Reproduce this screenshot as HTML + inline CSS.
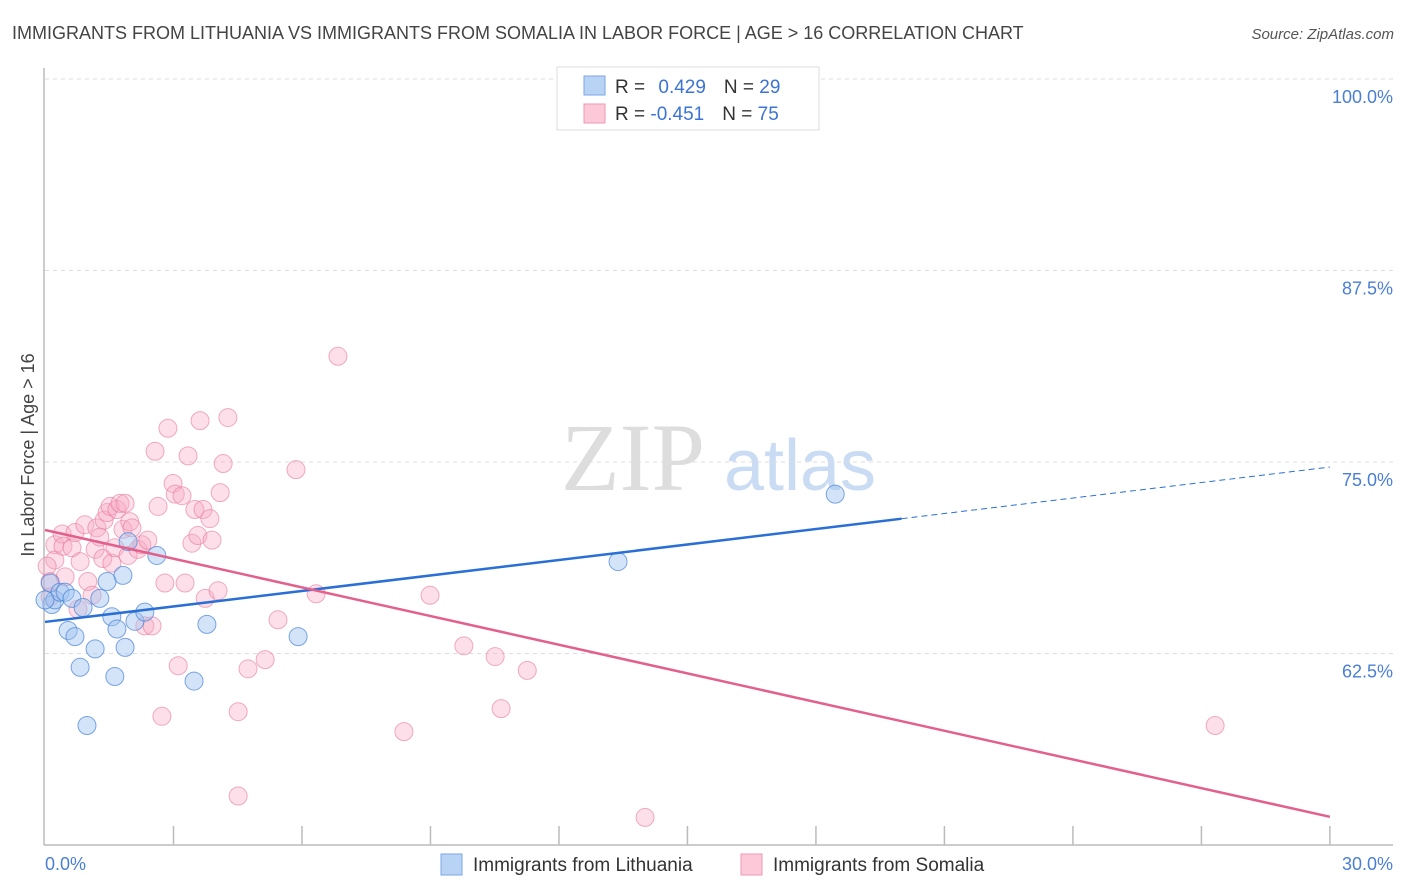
<!DOCTYPE html>
<html><head><meta charset="utf-8"><style>
body{margin:0;background:#fff;width:1406px;height:892px;overflow:hidden;font-family:"Liberation Sans",sans-serif}
svg{position:absolute;left:0;top:0}
</style></head><body>
<svg id="chart" width="1406" height="892">
<text x="12" y="39" font-size="18" fill="#444">IMMIGRANTS FROM LITHUANIA VS IMMIGRANTS FROM SOMALIA IN LABOR FORCE | AGE &gt; 16 CORRELATION CHART</text>
<text x="1394" y="39" font-size="15" fill="#555" font-style="italic" text-anchor="end">Source: ZipAtlas.com</text>
<g>
<text x="633" y="490" font-size="96" fill="#ddd" font-family="Liberation Serif,serif" text-anchor="middle">ZIP</text>
<text x="800" y="490" font-size="72" fill="#c9dcf3" text-anchor="middle">atlas</text>
</g>
<g id="grid"></g>
<g id="yticks"></g>
<line x1="44" y1="68" x2="44" y2="845" stroke="#bbb" stroke-width="1.5"/>
<line x1="44" y1="845" x2="1393" y2="845" stroke="#bbb" stroke-width="1.5"/>
<g id="xticks"></g>
<text x="45" y="870" font-size="18" fill="#4a7fd4">0.0%</text>
<text x="1393" y="870" font-size="18" fill="#4a7fd4" text-anchor="end">30.0%</text>
<text transform="translate(34,455) rotate(-90)" font-size="18" fill="#444" text-anchor="middle">In Labor Force | Age &gt; 16</text>
<g id="pts"></g>
<g id="trends"></g>
<g>
<rect x="557" y="67" width="262" height="63" fill="#fff" stroke="#ddd"/>
<rect x="584" y="76" width="21" height="19" fill="#b9d3f5" stroke="#7aa6e6"/>
<rect x="584" y="104" width="21" height="19" fill="#fcc9d8" stroke="#ee9ab4"/>
<text x="615" y="93" font-size="19" fill="#333">R = <tspan fill="#3b74d6" dx="8">0.429</tspan><tspan dx="18" fill="#333">N = </tspan><tspan fill="#3b74d6">29</tspan></text>
<text x="615" y="120" font-size="19" fill="#333">R = <tspan fill="#3b74d6">-0.451</tspan><tspan dx="18" fill="#333">N = </tspan><tspan fill="#3b74d6">75</tspan></text>
</g>
<g>
<rect x="441" y="854" width="21" height="21" fill="#b9d3f5" stroke="#7aa6e6"/>
<text x="473" y="871" font-size="19" fill="#333">Immigrants from Lithuania</text>
<rect x="741" y="854" width="21" height="21" fill="#fcc9d8" stroke="#ee9ab4"/>
<text x="773" y="871" font-size="19" fill="#333">Immigrants from Somalia</text>
</g>
</svg>
<script>
const yTickValues=[100,87.5,75,62.5];
const yTickLabels=["100.0%","87.5%","75.0%","62.5%"];
const xTickValues=[3,6,9,12,15,18,21,24,27,30];
const lithX=[0.12,0.16,0.23,0.35,0.47,0.54,0.70,0.63,0.82,0.89,0.98,1.17,1.28,1.45,1.56,1.63,1.68,1.82,1.87,1.94,2.10,2.33,2.61,3.48,3.78,5.91,13.38,18.45,0.0];
const lithY=[67.1,65.7,66.0,66.5,66.5,64.0,63.6,66.1,61.6,65.5,57.8,62.8,66.1,67.2,64.9,61.0,64.1,67.6,62.9,69.8,64.6,65.2,68.9,60.7,64.4,63.6,68.5,72.9,66.0];
const somX=[0.12,0.12,0.23,0.23,0.40,0.42,0.47,0.63,0.70,0.77,0.82,0.93,1.00,1.10,1.17,1.21,1.28,1.35,1.38,1.45,1.52,1.56,1.63,1.68,1.75,1.82,1.87,1.94,1.98,2.03,2.17,2.26,2.33,2.40,2.50,2.57,2.64,2.73,2.80,2.87,2.99,3.04,3.11,3.20,3.27,3.34,3.43,3.50,3.57,3.62,3.69,3.74,3.85,3.90,4.04,4.09,4.16,4.27,4.51,4.51,4.74,5.14,5.44,5.86,6.33,6.84,8.38,8.99,9.78,10.51,10.65,11.26,14.01,27.32,0.05];
const somY=[67.2,66.2,69.6,68.6,70.3,69.5,67.5,69.4,70.4,65.4,68.5,70.9,67.2,66.3,69.3,70.7,70.1,68.7,71.2,71.7,72.1,68.4,69.4,71.9,72.3,70.6,72.3,68.9,71.1,70.7,69.3,69.6,64.3,69.9,64.3,75.7,72.1,58.4,67.1,77.2,73.6,72.9,61.7,72.8,67.1,75.4,69.7,71.9,70.2,77.7,71.9,66.1,71.3,69.9,66.6,73.0,74.9,77.9,58.7,53.2,61.5,62.1,64.7,74.5,66.4,81.9,57.4,66.3,63.0,62.3,58.9,61.4,51.8,57.8,68.2];
const lithTrend=[64.56,0.337]; // intercept, slope
const somTrend=[70.56,-0.624];
const NS="http://www.w3.org/2000/svg";
const xs=v=>45+v*42.83;
const ys=v=>79+(100-v)*15.32;
function mk(tag,attrs,parent){const e=document.createElementNS(NS,tag);for(const k in attrs)e.setAttribute(k,attrs[k]);document.getElementById(parent).appendChild(e);return e;}
yTickValues.forEach((v,i)=>{
 const l=mk('line',{x1:45,x2:1393,y1:ys(v),y2:ys(v),stroke:'#ddd','stroke-dasharray':'4,4'},'grid');
 
 
 const t=mk('text',{x:1393,y:ys(v)+24,'font-size':18,fill:'#4a7fd4','text-anchor':'end'},'yticks');
 t.textContent=yTickLabels[i];
 
 
});
xTickValues.forEach(v=>{
 const l=mk('line',{x1:xs(v),x2:xs(v),y1:826,y2:845,stroke:'#bbb','stroke-width':1.5},'xticks');
 
 
});
somX.forEach((x,i)=>{
 const c=mk('circle',{cx:xs(x),cy:ys(somY[i]),r:9,fill:'rgba(248,172,196,0.38)',stroke:'rgba(232,120,155,0.6)','stroke-width':1},'pts');
 
 
});
lithX.forEach((x,i)=>{
 const c=mk('circle',{cx:xs(x),cy:ys(lithY[i]),r:9,fill:'rgba(160,196,240,0.45)',stroke:'rgba(70,130,215,0.7)','stroke-width':1},'pts');
 
 
});
const tl=(a,b,x)=>a+b*x;
let l1=mk('line',{x1:xs(0),y1:ys(tl(...lithTrend,0)),x2:xs(20),y2:ys(tl(...lithTrend,20)),stroke:'#2a6fd6','stroke-width':2.5},'trends');


let l2=mk('line',{x1:xs(20),y1:ys(tl(...lithTrend,20)),x2:xs(30),y2:ys(tl(...lithTrend,30)),stroke:'#2a6fd6','stroke-width':1,'stroke-dasharray':'6,4'},'trends');


let l3=mk('line',{x1:xs(0),y1:ys(tl(...somTrend,0)),x2:xs(30),y2:ys(tl(...somTrend,30)),stroke:'#e4608c','stroke-width':2.5},'trends');


</script>
</body></html>
